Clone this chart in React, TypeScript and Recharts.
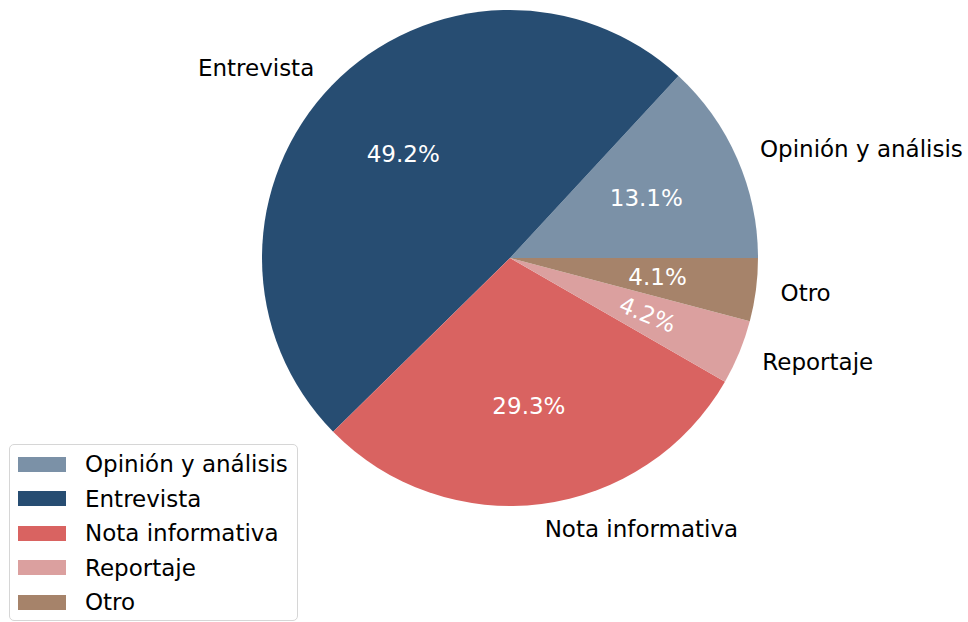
import { PieChart, Pie, Cell, Legend } from "recharts";

const categories = ["Opinión y análisis", "Entrevista", "Nota informativa", "Reportaje", "Otro"];
const shares = [13.1, 49.2, 29.3, 4.2, 4.1];
const colors = ["#7b91a7", "#274d72", "#d96361", "#dba09f", "#a6836a"];

const FONT = "'DejaVu Sans', sans-serif";
const RADIAN = Math.PI / 180;

const chartData = categories.map((name, i) => ({ name, value: shares[i] }));

const renderLabel = (props: any) => {
  const { cx, cy, midAngle, outerRadius, percent, name, index } = props;
  const cos = Math.cos(-midAngle * RADIAN);
  const sin = Math.sin(-midAngle * RADIAN);
  // outer category label (1.1 x radius), pct label (0.6 x radius)
  const lx = cx + outerRadius * 1.1 * cos;
  const ly = cy + outerRadius * 1.1 * sin;
  const px = cx + outerRadius * 0.6 * cos;
  const py = cy + outerRadius * 0.6 * sin;
  const pct = (percent * 100).toFixed(1) + "%";
  // the small Reportaje slice has its pct text turned along the slice
  const rot = index === 3 ? 360 - midAngle : 0;
  return (
    <g>
      <text
        x={lx}
        y={ly}
        fill="#000"
        fontSize={23}
        fontFamily={FONT}
        textAnchor={cos < 0 ? "end" : "start"}
        dominantBaseline="central"
      >
        {name}
      </text>
      <text
        x={px}
        y={py}
        fill="#fff"
        fontSize={23}
        fontFamily={FONT}
        textAnchor="middle"
        dominantBaseline="central"
        transform={rot ? `rotate(${rot} ${px} ${py})` : undefined}
      >
        {pct}
      </text>
    </g>
  );
};

// legend keeps the data order (Recharts would sort it by name)
const renderLegend = () => (
  <div
    style={{
      width: 289,
      height: 177,
      boxSizing: "border-box",
      border: "1.5px solid #d6d6d6",
      borderRadius: 5,
      background: "rgba(255,255,255,0.8)",
      paddingTop: 2,
      paddingLeft: 8,
      fontFamily: FONT,
      fontSize: 23,
      color: "#000",
    }}
  >
    {categories.map((name, i) => (
      <div key={name} style={{ display: "flex", alignItems: "center", height: 34.5 }}>
        <span style={{ width: 48, height: 15, background: colors[i], display: "inline-block" }} />
        <span style={{ marginLeft: 19, lineHeight: "34px", whiteSpace: "nowrap" }}>{name}</span>
      </div>
    ))}
  </div>
);

export default function App() {
  return (
    <div style={{ position: "absolute", left: 0, top: 0, background: "#fff" }}>
      <PieChart width={968} height={622} margin={{ top: 0, right: 0, bottom: 0, left: 0 }}>
        <Pie
          data={chartData}
          dataKey="value"
          nameKey="name"
          cx={510}
          cy={258}
          outerRadius={248}
          startAngle={0}
          endAngle={360}
          stroke="none"
          label={renderLabel}
          labelLine={false}
          isAnimationActive={false}
        >
          {chartData.map((d, i) => (
            <Cell key={d.name} fill={colors[i]} />
          ))}
        </Pie>
        <Legend
          content={renderLegend}
          wrapperStyle={{ position: "absolute", left: 9, top: 444, width: "auto" }}
        />
      </PieChart>
    </div>
  );
}
